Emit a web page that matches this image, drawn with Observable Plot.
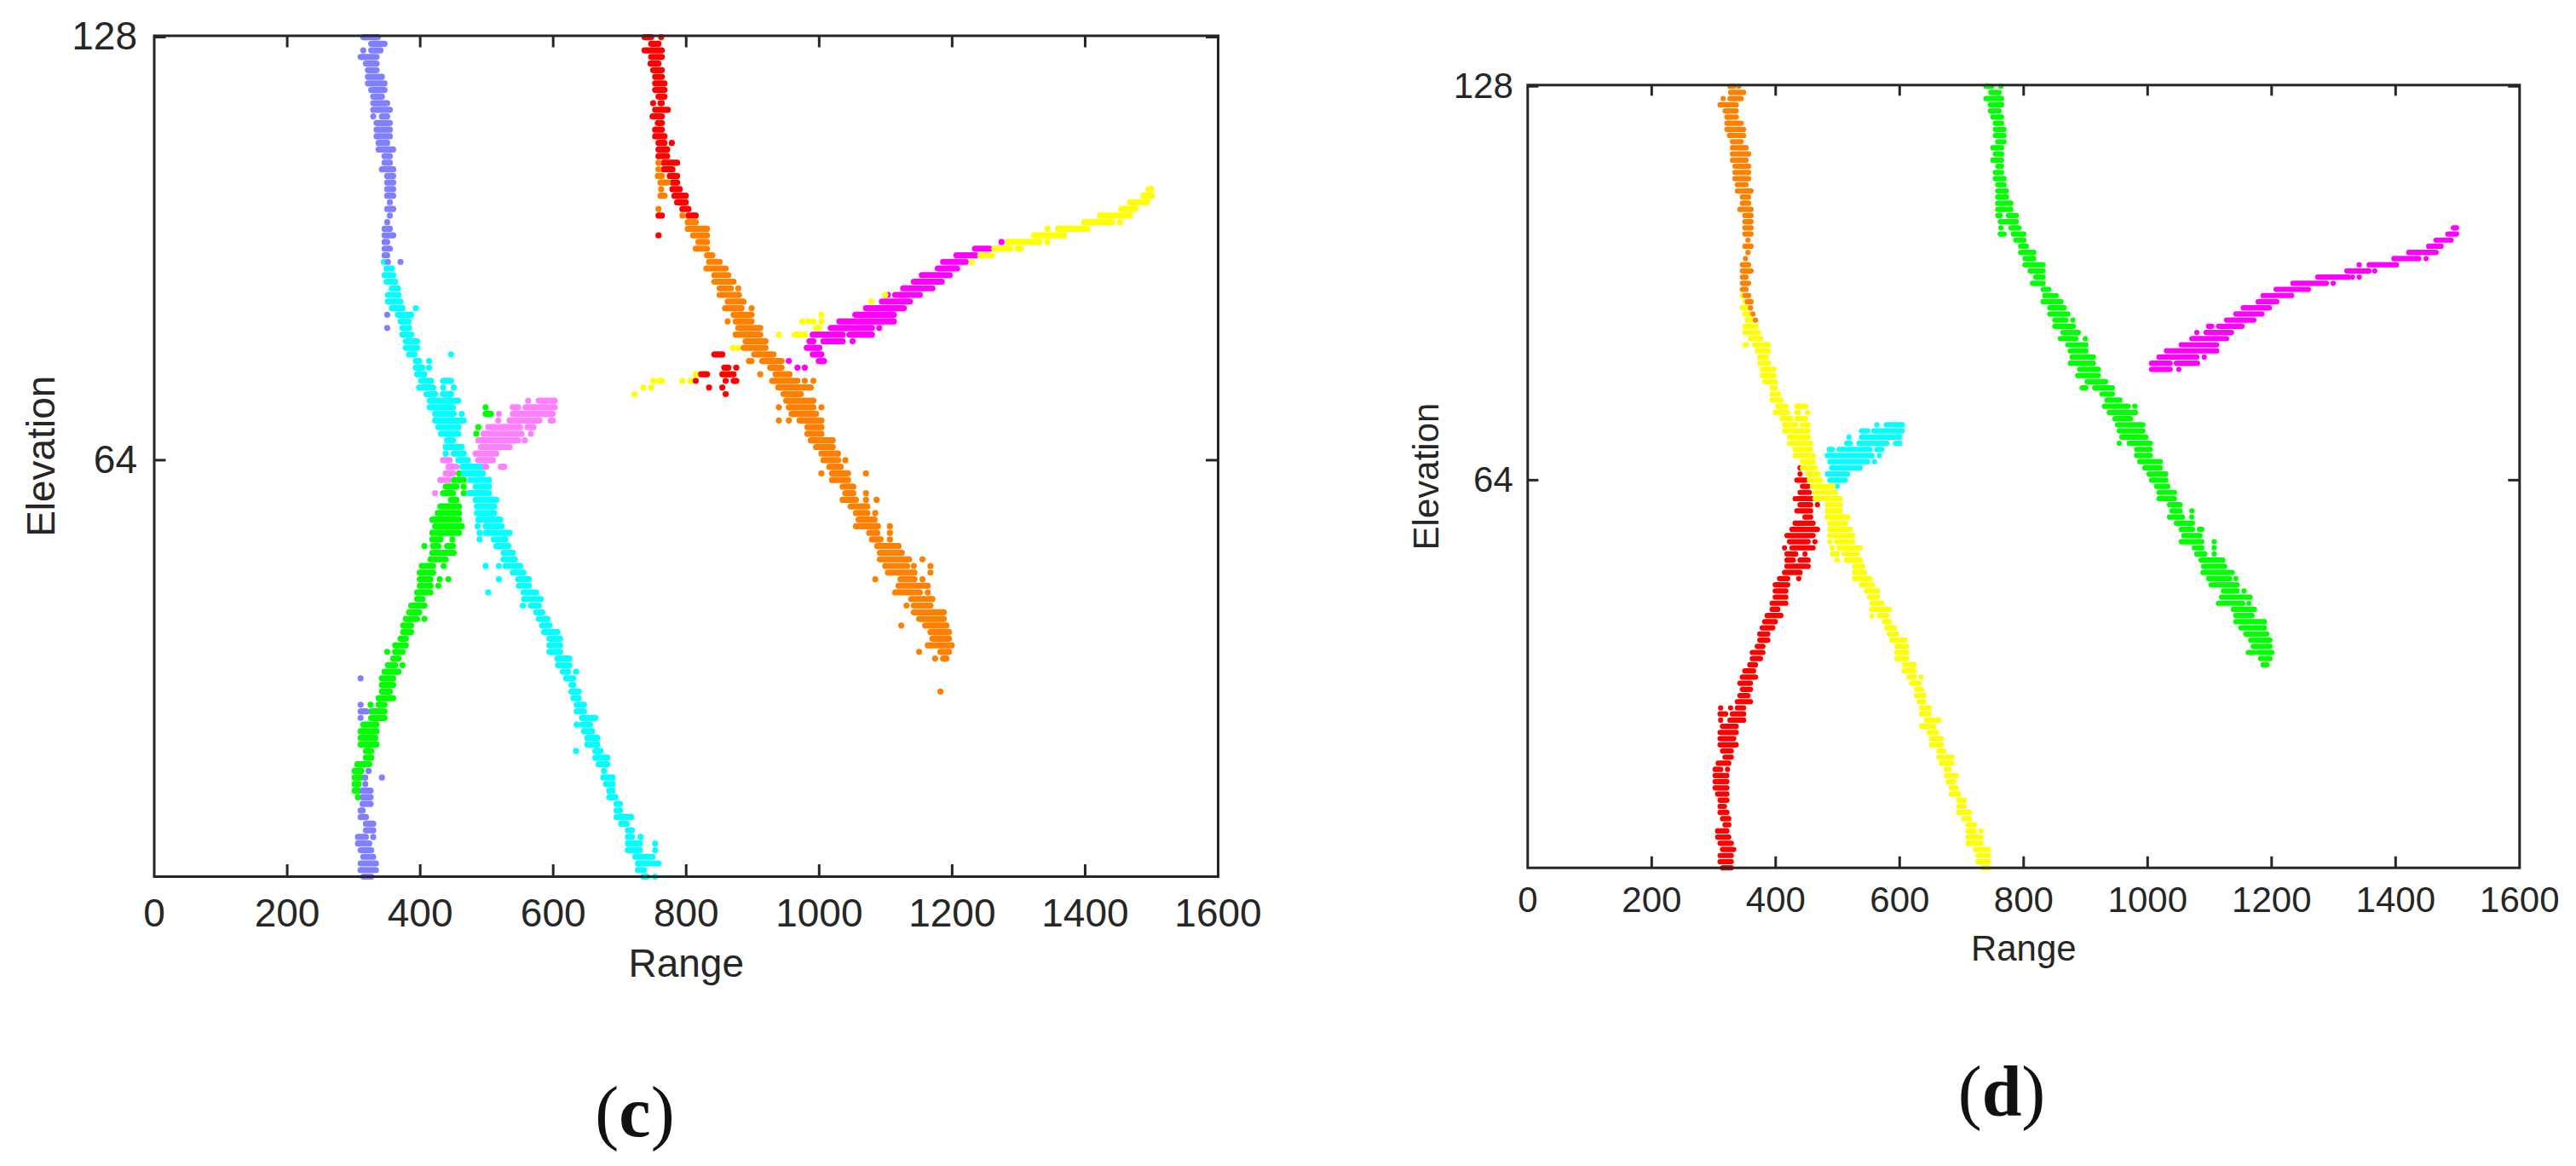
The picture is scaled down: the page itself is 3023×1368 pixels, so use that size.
<!DOCTYPE html>
<html><head><meta charset="utf-8">
<script src="https://cdn.jsdelivr.net/npm/d3@7"></script>
<script src="https://cdn.jsdelivr.net/npm/@observablehq/plot@0.6"></script>
<style>
html,body{margin:0;padding:0;background:#fff;width:3023px;height:1368px;overflow:hidden}
.panel{position:absolute;left:0;top:0}
.cap{position:absolute;font-family:"Liberation Serif",serif;color:#111;line-height:1;transform:translate(-50%,-50%)}
.cap b{font-weight:700}
</style></head><body>
<div id="c" class="panel"></div><div id="d" class="panel"></div>
<div class="cap" id="capC">(<b>c</b>)</div><div class="cap" id="capD">(<b>d</b>)</div>
<script>
// Runs: [elevation, range from, range to]; [elevation, range] is a single point.
const xTickLabels=[0,200,400,600,800,1000,1200,1400,1600];
const yTickLabels=[64,128];
const xLabel="Range", yLabel="Elevation";

const cGreen=[[13,307],[14,302,308],[15,302,308],[16,302,312],[17,302,312],[18,306,324],[19,319,327],[20,319,327],[21,311,335],[22,311,333],[23,311,335],[24,315,335],[25,327,347],[26,327,347],[27,326],[27,338,347],[28,338,360],[29,343,355],[30,343,360],[31,343,360],[32,347,368],[33,352,363],[33,374],[34,360,368],[35,351],[35,363,374],[36,363,379],[37,371,379],[38,375,387],[39,375,387],[40,379,396],[40,407],[41,384,399],[42,387,407],[43,396,404],[44,396,416],[45,400,416],[45,428],[46,400,416],[46,430],[46,443],[47,400,420],[48,403,420],[48,436],[49,416,439],[50,419,451],[51,407],[51,420,428],[51,441,450],[52,419,431],[52,449],[53,419,459],[54,423,463],[55,419,459],[56,427,459],[57,431,459],[58,447,455],[59,435,450],[59,466],[60,439,455],[60,466],[61,451,466],[62,459],[68,485],[69,488],[71,499,507],[72,499]];
const cPink=[[73,563],[73,579,603],[72,540,548],[72,559,603],[71,519],[71,540,600],[70,518],[70,535,580],[70,597,600],[69,503,551],[69,562,571],[68,496,553],[68,567],[67,488,548],[67,558],[66,492,535],[65,484,515],[64,435,445],[64,488,510],[63,443,455],[63,492,500],[63,522,527],[62,439,450],[61,431,443],[59,423]];
const cCyan=[[94,346],[93,350,358],[92,347,360],[91,350,363],[90,358,367],[89,352,368],[88,352,371],[87,358,374],[87,394],[86,367,387],[85,371,383],[84,374,384],[83,374,387],[82,379,396],[81,379,396],[80,384,392],[80,447],[79,394,399],[79,414],[78,394,404],[78,414],[77,396,407],[76,402,417],[76,435,447],[75,399,420],[75,435],[75,451],[74,410,423],[74,435,447],[73,415,458],[72,415,450],[71,423,451],[71,463],[70,423,466],[69,428,458],[68,432,458],[67,441,450],[66,439,463],[65,439],[65,451,466],[64,458,472],[63,464,490],[62,466,495],[61,476,504],[60,484,504],[59,474,504],[58,484,515],[57,486,512],[56,486,512],[55,488,521],[54,487],[54,499,523],[53,490],[53,499,535],[52,490],[52,511,529],[51,515,533],[50,526,540],[49,526,543],[48,499],[48,519],[48,529,551],[47,540,556],[46,519],[46,548,564],[45,549,564],[44,503],[44,556,575],[43,557,582],[42,555],[42,567,579],[41,575,584],[40,579,592],[39,584,595],[38,587,607],[37,595,611],[36,595,611],[35,595,611],[34,607,625],[33,608,625],[32,615,623],[32,635],[31,620,631],[30,628,631],[29,628,639],[28,631,639],[27,636,647],[26,636,647],[25,644,664],[24,636],[24,644,656],[23,647,659],[22,652,667],[21,652,667],[20,635],[20,664,672],[19,664,682],[18,669,682],[17,677],[16,676,690],[15,680,690],[14,685,690],[13,685,694],[12,696,701],[11,696,701],[10,696,718],[9,703,711],[8,713,719],[7,713,719],[7,732],[6,713,731],[6,754],[5,713,731],[5,754],[4,724,750],[3,728,759],[2,728,737],[1,736,742],[1,754]];
const cPeriwinkle=[[128,315,337],[127,327,347],[126,315],[126,327,341],[125,311,335],[124,319,335],[123,322,335],[122,322,343],[121,322,347],[120,327,347],[119,330,343],[118,330,351],[117,330,355],[116,330],[116,343,351],[115,335,355],[114,335,355],[113,335,355],[112,338,351],[111,338,360],[110,347,355],[109,347,355],[108,343,360],[107,351,360],[106,351,360],[105,351,360],[104,351,360],[103,355],[102,351,360],[101,355],[100,351],[99,347,355],[98,347,360],[97,347,351],[96,347,355],[95,347,351],[94,352],[94,371],[86,351],[84,351],[31,311],[27,311],[26,311,320],[25,311],[17,323],[16,318],[16,343],[15,318],[14,314,326],[13,314,326],[12,314,326],[11,311,314],[10,311,319],[9,319,330],[8,319,330],[7,307,319],[7,330],[6,307,324],[5,311,327],[4,315,330],[3,311,334],[2,311,330],[2,334],[1,315,327]];
const cMagenta=[[97,1275],[96,1235,1257],[95,1207,1236],[94,1187,1221],[93,1179,1208],[92,1155,1197],[91,1143,1185],[90,1127,1171],[89,1104],[89,1115,1152],[88,1095,1137],[87,1071,1128],[86,1055,1113],[85,1031,1113],[84,1018,1080],[84,1091],[83,991,1036],[83,1046,1080],[82,986,992],[82,1007,1036],[82,1051],[81,982,1001],[80,991,1004],[79,955],[79,1000,1008],[78,968],[78,979]];
const cYellow=[[105,1496,1500],[104,1488,1501],[103,1468,1494],[102,1455,1476],[101,1423,1468],[100,1399,1441],[100,1453],[99,1344],[99,1360,1404],[98,1324,1369],[97,1284,1332],[97,1344],[96,1264,1288],[96,1299,1304],[95,1243,1260],[94,1230],[89,1100],[88,1079],[86,1004],[85,975],[85,984],[85,992],[85,1004],[84,996,1001],[83,940],[83,964,979],[81,871],[81,879],[77,815],[76,751],[76,760,764],[76,795],[76,807],[75,736],[75,748],[74,723]];
const cRed=[[128,738,748],[128,763],[127,748,759],[126,738,764],[125,748,764],[124,747,759],[123,751,764],[122,754,764],[121,754,768],[120,754,768],[119,759,768],[118,751],[118,762,764],[117,754,773],[116,750,764],[115,758,764],[114,754,764],[113,754,768],[112,759,768],[112,779],[111,759,772],[110,759,772],[109,767,787],[108,767,780],[107,776,787],[106,780,787],[105,780,791],[104,783,800],[103,787,800],[102,795,804],[101,759,764],[101,804,815],[98,759],[80,843,855],[78,858,864],[78,876],[77,823,832],[77,855,872],[76,815],[76,860],[76,872,876],[75,835],[75,855],[74,860]];
const cOrange=[[109,759],[108,759],[107,758,764],[106,762,773],[105,763],[104,762,768],[102,759],[101,795],[100,803,815],[99,803,832],[98,811,832],[97,819,832],[96,815,832],[95,832,840],[94,835,851],[93,831,860],[92,843,864],[91,843,872],[90,851,868],[90,879],[89,851,880],[88,863,887],[87,859,884],[87,899],[86,872,899],[85,863],[85,875,899],[84,879,912],[83,875,912],[82,890,920],[81,887,920],[80,903,932],[79,895,899],[79,915,944],[78,927,944],[77,912],[77,935,956],[76,930,968],[76,979],[76,992],[75,939,988],[74,947,973],[73,951,992],[72,940],[72,955,992],[72,1004],[71,959,996],[70,940],[70,955],[70,971,1004],[69,983,1004],[68,983,1004],[67,988,1021],[66,996,1021],[65,1004,1029],[64,1007,1029],[64,1040],[63,1016,1033],[62,1004],[62,1020,1044],[62,1071],[61,1020,1044],[60,1036,1052],[59,1040,1052],[59,1071],[58,1036,1056],[58,1071],[58,1087],[57,1048,1073],[56,1056,1073],[56,1085],[55,1060,1084],[54,1056,1089],[54,1107],[53,1076,1088],[53,1107],[52,1080,1093],[52,1107],[51,1088,1120],[50,1092,1125],[49,1092,1136],[49,1156],[48,1100,1133],[48,1143],[48,1168],[47,1104,1144],[47,1168],[46,1085],[46,1123,1144],[46,1156],[45,1120,1164],[44,1115,1152],[44,1164],[43,1139,1171],[42,1132],[42,1143,1168],[41,1143,1188],[40,1151,1188],[39,1124],[39,1160,1192],[38,1168,1196],[37,1171,1196],[36,1164,1200],[35,1151],[35,1183,1196],[34,1175],[34,1187,1192],[29,1183]];

const dRed=[[66,440],[65,440],[64,435,449],[63,444,453],[62,440,455],[61,432,460],[60,440,457],[60,468],[59,435,457],[58,448,457],[57,432,461],[56,427,468],[55,419,461],[54,423,453],[54,464],[53,415],[53,427,461],[52,419,433],[52,448],[51,419,429],[51,440,453],[50,419,453],[49,415,440],[48,407,420],[48,438],[47,400,420],[46,400,417],[45,400,417],[44,395,417],[43,395,404],[42,387,409],[41,383,400],[40,379,396],[39,375,388],[38,375,388],[37,371,380],[36,363,380],[35,363,376],[34,359,368],[33,351,365],[32,347,368],[31,343,360],[30,347,360],[29,343,356],[28,339,360],[27,312],[27,328],[27,339,349],[26,311,320],[26,331,349],[25,312],[25,327,349],[24,315,337],[23,311,337],[22,311,333],[21,311,337],[20,315,329],[19,319,329],[18,308,325],[17,303,312],[17,323],[16,303,322],[15,303,322],[14,303,322],[13,307,322],[12,311,322],[11,311,318],[10,311,322],[9,315,325],[8,319,325],[7,307,322],[6,307,325],[5,311,329],[4,315,333],[3,311,329],[2,311,329],[1,315,329]];
const dCyan=[[73,564],[73,579,605],[72,539,549],[72,559,605],[71,519],[71,539,601],[70,515,521],[70,535,580],[70,594,601],[69,487,492],[69,503,553],[69,564,572],[68,484,556],[68,568],[67,488,549],[67,560],[66,491,537],[65,484,517],[64,488,513],[63,500]];
const dYellow=[[94,347,350],[93,351],[92,347,353],[91,351,358],[90,355,362],[89,351,369],[88,351,373],[87,360,377],[86,351,354],[86,367,389],[85,371,389],[84,375,386],[83,375,389],[82,379,398],[81,379,398],[80,383,400],[79,395,400],[78,395,405],[77,395,409],[76,404,417],[76,435,449],[75,400,420],[75,435,437],[75,452],[74,411,425],[74,435,449],[73,415,433],[73,444,453],[72,415,453],[71,423,453],[70,423,457],[69,432,457],[68,432,461],[67,444,461],[66,444,465],[65,452,469],[64,455,473],[63,460,493],[62,464,497],[61,464,505],[60,484,505],[59,484,505],[58,484,517],[57,488,513],[56,488,521],[55,488,525],[54,488],[54,499,525],[53,492],[53,503,537],[52,492,500],[52,511,532],[51,500],[51,515,537],[50,528,541],[49,528,544],[48,528,553],[47,539,557],[46,547,565],[45,552,565],[44,556,572],[43,556,584],[42,556],[42,568,580],[41,576,584],[40,580,592],[39,584,596],[38,588,609],[37,596,612],[36,596,612],[35,596,612],[34,608,624],[33,608,624],[32,616,624],[32,635],[31,620,632],[30,628,636],[29,628,640],[28,632,640],[27,636,648],[26,636,648],[25,644,664],[24,636,656],[23,648,660],[22,652,668],[21,652,668],[20,664,672],[19,664,685],[18,668,685],[17,676,680],[16,676,692],[15,679,688],[14,684,692],[13,684,696],[12,696,705],[11,696,705],[10,696,713],[9,704,713],[8,711,721],[7,711,721],[7,732],[6,711,732],[5,711,732],[4,723,744],[3,727,744],[2,727,744],[1,735,744]];
const dOrange=[[128,327,333],[128,341],[127,328,349],[126,316],[126,327,345],[125,311,337],[124,319,337],[123,322,337],[122,322,345],[121,322,349],[120,326,349],[119,331,345],[118,331,353],[117,331,357],[116,331,335],[116,339,353],[115,335,357],[114,335,338],[114,343,357],[113,335,357],[112,339,353],[111,339,342],[111,346,361],[110,347,357],[109,347,357],[108,343,361],[107,351,361],[106,351,361],[105,351,361],[104,351,361],[103,356],[102,351,361],[101,356],[100,352],[99,347,357],[98,347,361],[97,347,353],[96,347,357],[95,347,353],[94,351,357],[93,355,361],[92,360],[91,364],[90,368]];
const dGreen=[[128,740,749],[128,764],[127,748,761],[126,740,765],[125,747,765],[124,747,761],[123,751,765],[122,755,765],[121,755,769],[120,755,769],[119,759,769],[118,751,765],[117,755,765],[116,751,765],[115,759,765],[114,755,765],[113,755,769],[112,759,769],[111,759,773],[110,759,773],[109,759,780],[108,759,780],[107,759,763],[107,776,789],[106,763,789],[105,764],[105,780,793],[104,763,769],[104,784,801],[103,788,801],[102,796,805],[101,796,817],[100,803,817],[99,803,832],[98,811,832],[97,820,832],[96,815,832],[95,832,841],[94,835,853],[93,832,861],[92,843,866],[91,843,872],[90,851,869],[90,880],[89,851,881],[88,864,889],[87,860,885],[87,900],[86,872,901],[85,876,901],[84,879,913],[83,876,913],[82,891,921],[81,888,921],[80,903,933],[79,895,901],[79,915,944],[78,927,944],[77,935,956],[76,931,969],[76,980],[75,939,981],[74,948,973],[73,952,993],[72,955,993],[71,959,998],[70,955],[70,971,1005],[69,983,1005],[68,983,1005],[67,988,1021],[66,996,1021],[65,1003,1030],[64,1007,1030],[63,1015,1033],[62,1019,1044],[61,1019,1044],[60,1036,1053],[59,1040,1053],[59,1072],[58,1036,1057],[58,1072],[57,1047,1073],[56,1055,1073],[56,1084,1088],[55,1059,1085],[54,1055,1088],[54,1108],[53,1076,1088],[53,1108],[52,1080,1093],[52,1108],[51,1087,1122],[50,1091,1125],[49,1090,1137],[48,1099,1133],[48,1143],[47,1103,1145],[46,1123,1145],[46,1156],[45,1120,1166],[44,1115,1154],[44,1164],[43,1139,1173],[42,1143,1169],[41,1143,1189],[40,1151,1189],[39,1159,1193],[38,1167,1198],[37,1171,1198],[36,1163,1172],[36,1179,1201],[35,1183,1198],[34,1187,1193]];
const dMagenta=[[105,1494,1499],[104,1485,1499],[103,1466,1490],[102,1454,1474],[101,1422,1466],[100,1398,1438],[100,1450],[99,1342],[99,1358,1402],[98,1322,1358],[98,1367],[97,1275,1325],[97,1331],[97,1342],[96,1235,1289],[96,1300],[95,1208,1260],[94,1187,1233],[93,1179,1209],[92,1155,1197],[91,1143,1185],[90,1128,1172],[89,1099,1104],[89,1115,1153],[88,1080],[88,1095,1136],[87,1072,1128],[86,1055,1112],[85,1031,1112],[84,1019,1080],[84,1092],[83,1007,1037],[83,1047,1081],[82,1007,1037],[82,1051]];

const panelC=[[cGreen,"#00ff00"],[cPink,"#ff80ff"],[cCyan,"#00ffff"],[cPeriwinkle,"#8080ff"],[cMagenta,"#ff00ff"],[cYellow,"#ffff00"],[cRed,"#ff0000"],[cOrange,"#ff8000"]];
const panelD=[[dRed,"#ff0000"],[dCyan,"#00ffff"],[dYellow,"#ffff00"],[dOrange,"#ff8000"],[dGreen,"#00ff00"],[dMagenta,"#ff00ff"]];

const ink="#262626";
function panel(id,layers,o){
  const inner=o.width-o.ml-o.mr, innerX=o.height-o.mt-o.mb;
  const xInner=xTickLabels.slice(1,-1);
  const plot=Plot.plot({
    width:o.width,height:o.height,marginLeft:o.ml,marginRight:o.mr,marginTop:o.mt,marginBottom:o.mb,
    style:{fontFamily:'"Liberation Sans",Arial,sans-serif',color:ink,background:"transparent",overflow:"visible"},
    x:{domain:[0,1600]},y:{domain:[1,128.2]},
    marks:[
      ...layers.map(([rows,color])=>Plot.ruleY(rows,{y:d=>d[0],x1:d=>d[1],x2:d=>d[2]??d[1],stroke:color,strokeWidth:o.dot,strokeLinecap:"round"})),
      Plot.tickX(xInner,{x:d=>d,insetTop:innerX-o.tick,stroke:ink,strokeWidth:3}),
      Plot.tickX(xInner,{x:d=>d,insetBottom:innerX-o.tick,stroke:ink,strokeWidth:3}),
      Plot.tickY(yTickLabels,{y:d=>d,insetRight:inner-o.tick,stroke:ink,strokeWidth:3}),
      Plot.tickY(yTickLabels,{y:d=>d,insetLeft:inner-o.tick,stroke:ink,strokeWidth:3}),
      Plot.frame({stroke:ink,strokeWidth:3}),
      Plot.axisX(xTickLabels,{anchor:"bottom",tickSize:0,tickPadding:o.xPad,fontSize:o.font,tickFormat:d=>String(d),label:xLabel,labelAnchor:"center",labelOffset:o.xLab,labelArrow:"none"}),
      Plot.axisY(yTickLabels,{anchor:"left",tickSize:0,tickPadding:o.yPad,fontSize:o.font,tickFormat:d=>String(d),label:yLabel,labelAnchor:"center",labelOffset:o.yLab,labelArrow:"none"})
    ]
  });
  const host=document.getElementById(id);
  host.style.left=o.left+"px";
  host.appendChild(plot);
}
panel("c",panelC,{left:0,width:1500,height:1170,ml:180.5,mr:71,mt:41.5,mb:142,dot:7.2,tick:14,font:46,xPad:26,yPad:20,xLab:117,yLab:150});
panel("d",panelD,{left:1640,width:1383,height:1150,ml:152.3,mr:66.7,mt:99.3,mb:132.3,dot:6.2,tick:13,font:42,xPad:22,yPad:17,xLab:109,yLab:135});
document.getElementById("capC").style.cssText="left:745px;top:1305px;font-size:84px";
document.getElementById("capD").style.cssText="left:2349px;top:1281px;font-size:84px";
</script>
</body></html>
